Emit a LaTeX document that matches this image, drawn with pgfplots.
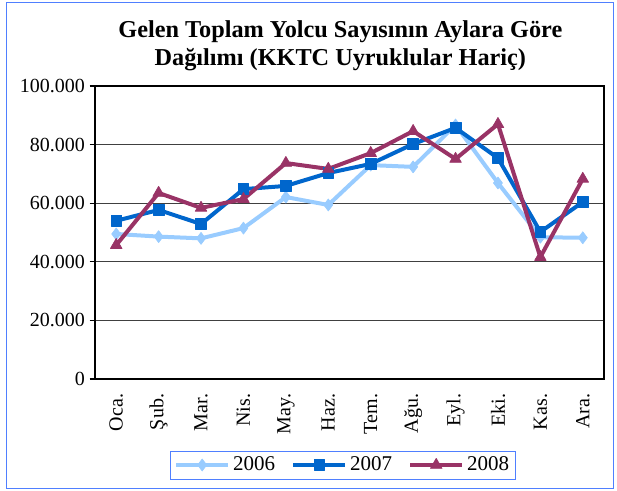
\documentclass[border=0pt]{standalone}
\usepackage{pgfplots}
\pgfplotsset{compat=1.18}
\usepackage{fontspec}
\setmainfont{Liberation Serif}
\definecolor{c2006}{HTML}{99CCFF}
\definecolor{c2007}{HTML}{0066CC}
\definecolor{c2008}{HTML}{993366}
\definecolor{frameblue}{HTML}{4F7FFF}
\begin{document}
\begin{tikzpicture}[x=1pt,y=1pt]
\begin{axis}[
  at={(0,0)}, anchor=south west,
  scale only axis,
  width=381.75pt, height=219.75pt,
  xmin=-0.5, xmax=11.5,
  ymin=0, ymax=100000,
  xtick={0,...,11},
  xticklabels={Oca.,Şub.,Mar.,Nis.,May.,Haz.,Tem.,Ağu.,Eyl.,Eki.,Kas.,Ara.},
  x tick label style={rotate=90, anchor=east, font=\fontsize{15}{18}\selectfont, inner sep=0pt},
  xticklabel shift=7pt,
  major x tick style={draw=none},
  ytick={0,20000,40000,60000,80000,100000},
  yticklabels={0,20.000,40.000,60.000,80.000,100.000},
  y tick label style={font=\fontsize{15}{18}\selectfont},
  ytick pos=left,
  scaled y ticks=false,
  ymajorgrids,
  grid style={black!75, line width=0.8pt},
  axis line style={black, line width=1.1pt},
  tick align=outside,
  major tick length=4pt,
  ytick style={black, line width=0.8pt},
  legend columns=3,
  legend style={at={(0.487,-0.2935)}, anchor=center, draw=frameblue, line width=0.6pt,
    font=\fontsize{15.75}{18}\selectfont, inner sep=2.5pt,
    /tikz/every even column/.append style={column sep=10pt}},
  legend image code/.code={\draw[mark repeat=2,mark phase=2,#1] plot coordinates {(0cm,0cm) (0.69cm,0cm) (1.38cm,0cm)};},
  every axis plot/.append style={line width=3pt, line join=round},
]
\addplot[c2006, mark=diamond*, mark size=4.5pt, mark options={solid, line width=0.5pt}] coordinates {
(0,49500) (1,48600) (2,48000) (3,51500) (4,62100) (5,59400) (6,73000) (7,72400) (8,86700) (9,66900) (10,48400) (11,48200)};
\addlegendentry{2006}
\addplot[c2007, mark=square*, mark size=4pt, mark options={solid, line width=0.5pt}] coordinates {
(0,54000) (1,57700) (2,52900) (3,64800) (4,65900) (5,70300) (6,73400) (7,80200) (8,85700) (9,75400) (10,50200) (11,60400)};
\addlegendentry{2007}
\addplot[c2008, mark=triangle*, mark size=5pt, mark options={solid, line width=0.5pt}] coordinates {
(0,45700) (1,63500) (2,58400) (3,61400) (4,73700) (5,71700) (6,77100) (7,84600) (8,75100) (9,87000) (10,41600) (11,68300)};
\addlegendentry{2008}
\end{axis}
\node[font=\bfseries\fontsize{18.2}{21}\selectfont, align=center, anchor=center] at (184pt,250pt)
  {Gelen Toplam Yolcu Sayısının Aylara Göre\\Dağılımı (KKTC Uyruklular Hariç)};
\draw[frameblue, line width=0.75pt] (-66pt,-81.75pt) rectangle (389pt,282pt);
\pgfresetboundingbox
\path (-71.25pt,-83.25pt) rectangle (391.5pt,284.25pt);
\end{tikzpicture}
\end{document}
